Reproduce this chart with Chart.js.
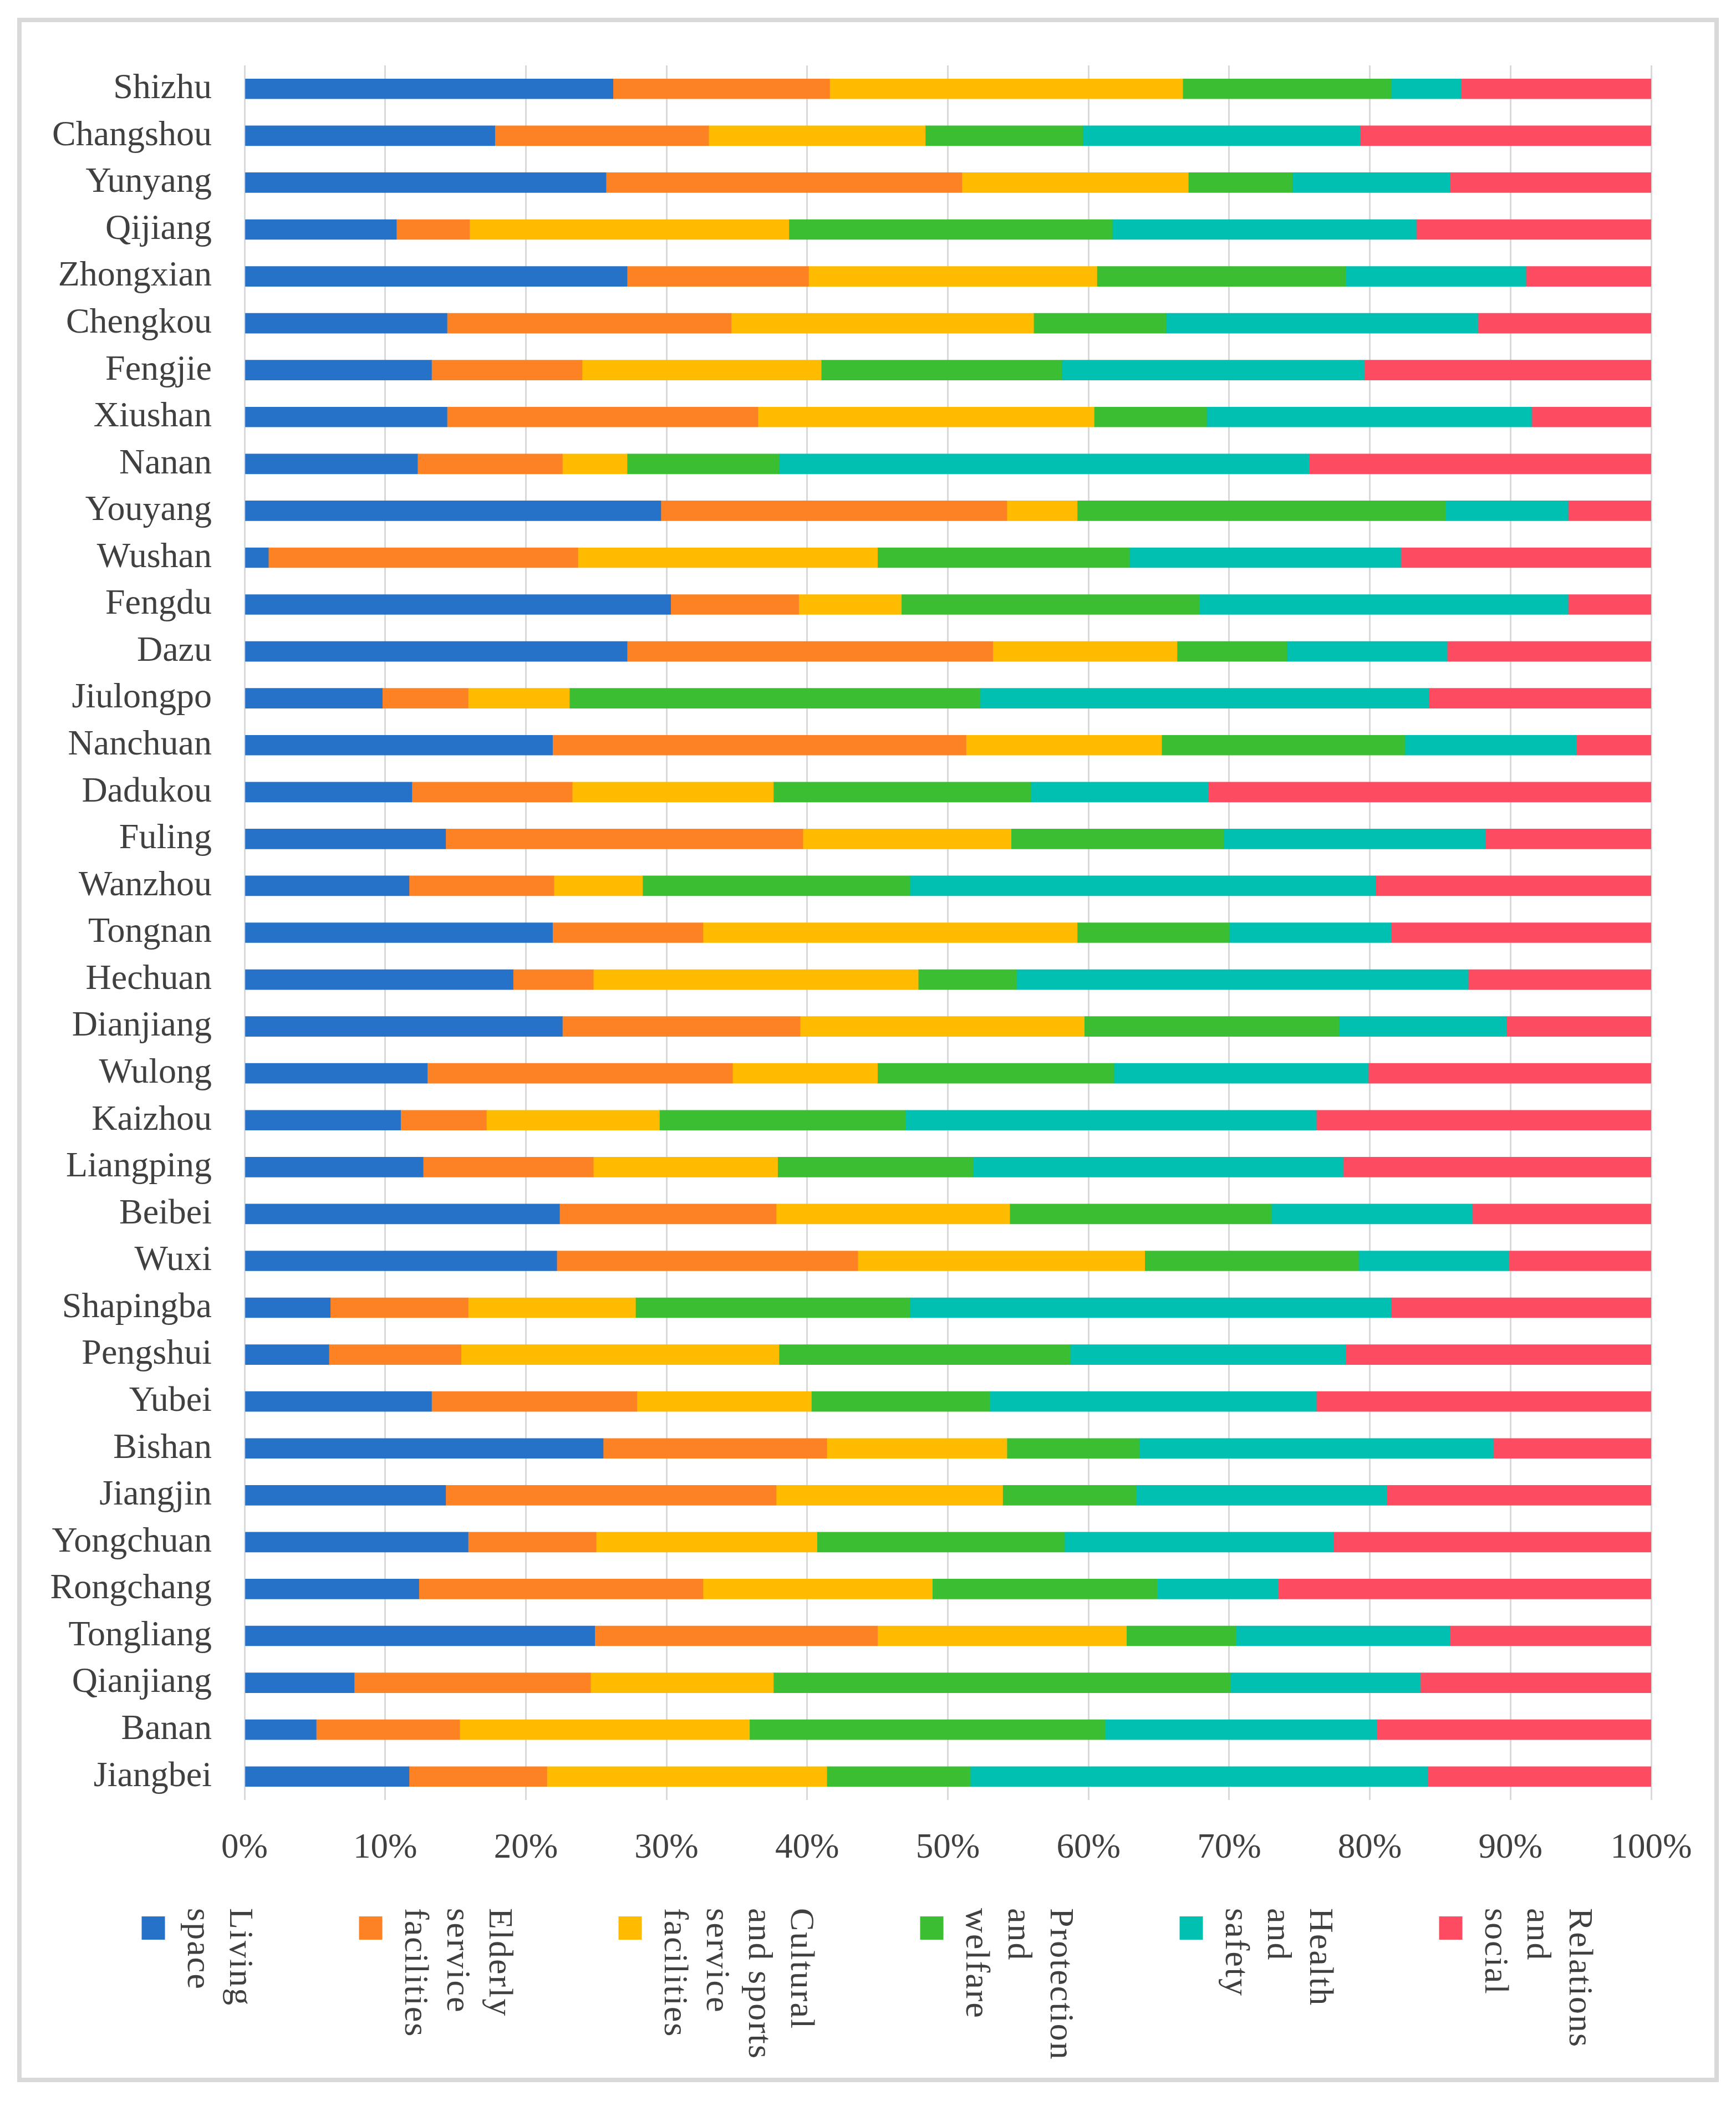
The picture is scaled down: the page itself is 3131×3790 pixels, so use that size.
<!DOCTYPE html>
<html>
<head>
<meta charset="utf-8">
<title>Stacked 100% bar chart</title>
<script src="https://cdn.jsdelivr.net/npm/chart.js@4.4.1/dist/chart.umd.min.js"></script>
<style>
  html, body { margin: 0; padding: 0; background: #ffffff; }
  #wrap { width: 3131px; height: 3790px; }
</style>
</head>
<body>
<div id="wrap"><canvas id="chart" width="3131" height="3790"></canvas></div>
<script>
// categories, top to bottom
const districts = [
  'Shizhu', 'Changshou', 'Yunyang', 'Qijiang', 'Zhongxian', 'Chengkou',
  'Fengjie', 'Xiushan', 'Nanan', 'Youyang', 'Wushan', 'Fengdu',
  'Dazu', 'Jiulongpo', 'Nanchuan', 'Dadukou', 'Fuling', 'Wanzhou',
  'Tongnan', 'Hechuan', 'Dianjiang', 'Wulong', 'Kaizhou', 'Liangping',
  'Beibei', 'Wuxi', 'Shapingba', 'Pengshui', 'Yubei', 'Bishan',
  'Jiangjin', 'Yongchuan', 'Rongchang', 'Tongliang', 'Qianjiang', 'Banan',
  'Jiangbei'
];

// shares in percent, same order as districts
const livingSpace = [
  26.2, 17.8, 25.7, 10.8, 27.2, 14.4,
  13.3, 14.4, 12.3, 29.6, 1.7, 30.3,
  27.2, 9.8, 21.9, 11.9, 14.3, 11.7,
  21.9, 19.1, 22.6, 13.0, 11.1, 12.7,
  22.4, 22.2, 6.1, 6.0, 13.3, 25.5,
  14.3, 15.9, 12.4, 24.9, 7.8, 5.1,
  11.7
];
const elderlyService = [
  15.4, 15.2, 25.3, 5.2, 12.9, 20.2,
  10.7, 22.1, 10.3, 24.6, 22.0, 9.1,
  26.0, 6.1, 29.4, 11.4, 25.4, 10.3,
  10.7, 5.7, 16.9, 21.7, 6.1, 12.1,
  15.4, 21.4, 9.8, 9.4, 14.6, 15.9,
  23.5, 9.1, 20.2, 20.1, 16.8, 10.2,
  9.8
];
const culturalSports = [
  25.1, 15.4, 16.1, 22.7, 20.5, 21.5,
  17.0, 23.9, 4.6, 5.0, 21.3, 7.3,
  13.1, 7.2, 13.9, 14.3, 14.8, 6.3,
  26.6, 23.1, 20.2, 10.3, 12.3, 13.1,
  16.6, 20.4, 11.9, 22.6, 12.4, 12.8,
  16.1, 15.7, 16.3, 17.7, 13.0, 20.6,
  19.9
];
const protectionWelfare = [
  14.8, 11.2, 7.4, 23.0, 17.7, 9.4,
  17.1, 8.0, 10.8, 26.2, 17.9, 21.2,
  7.8, 29.2, 17.3, 18.3, 15.1, 19.0,
  10.8, 7.0, 18.1, 16.8, 17.5, 13.9,
  18.6, 15.2, 19.5, 20.7, 12.7, 9.4,
  9.5, 17.6, 16.0, 7.8, 32.5, 25.3,
  10.2
];
const healthSafety = [
  5.0, 19.7, 11.2, 21.6, 12.8, 22.2,
  21.5, 23.1, 37.7, 8.7, 19.3, 26.2,
  11.4, 31.9, 12.2, 12.6, 18.6, 33.1,
  11.5, 32.1, 11.9, 18.1, 29.2, 26.3,
  14.3, 10.7, 34.2, 19.6, 23.2, 25.2,
  17.8, 19.1, 8.6, 15.2, 13.5, 19.3,
  32.5
];
const relationsSocial = [
  13.5, 20.7, 14.3, 16.7, 8.9, 12.3,
  20.4, 8.5, 24.3, 5.9, 17.8, 5.9,
  14.5, 15.8, 5.3, 31.5, 11.8, 19.6,
  18.5, 13.0, 10.3, 20.1, 23.8, 21.9,
  12.7, 10.1, 18.5, 21.7, 23.8, 11.2,
  18.8, 22.6, 26.5, 14.3, 16.4, 19.5,
  15.9
];

const seriesNames = [
  'Living space',
  'Elderly service facilities',
  'Cultural and sports service facilities',
  'Protection and welfare',
  'Health and safety',
  'Relations and social'
];
// how the legend wraps each name
const legendLines = [
  ['Living', 'space'],
  ['Elderly', 'service', 'facilities'],
  ['Cultural', 'and sports', 'service', 'facilities'],
  ['Protection', 'and', 'welfare'],
  ['Health', 'and', 'safety'],
  ['Relations', 'and', 'social']
];
const seriesColors = ['#2672c9', '#fd8224', '#febb00', '#3cbe33', '#00c0b1', '#fd4b61'];

// x axis ticks
const xTickValues = [0, 10, 20, 30, 40, 50, 60, 70, 80, 90, 100];
const xTickLabels = ['0%', '10%', '20%', '30%', '40%', '50%', '60%', '70%', '80%', '90%', '100%'];

const SERIF = '"Liberation Serif", "Times New Roman", serif';
const TEXT_COLOR = '#404040';

// light grey frame round the whole picture
const framePlugin = {
  id: 'frame',
  beforeDraw(chart) {
    const ctx = chart.ctx;
    ctx.save();
    ctx.fillStyle = '#ffffff';
    ctx.fillRect(0, 0, chart.width, chart.height);
    ctx.strokeStyle = '#d9d9d9';
    ctx.lineWidth = 8;
    ctx.strokeRect(35, 36, 3061, 3716);
    ctx.restore();
  }
};

// Excel-style legend: square swatch, name written top-to-bottom in columns
const verticalLegend = {
  id: 'verticalLegend',
  afterDraw(chart) {
    const ctx = chart.ctx;
    const box = 42, textGap = 41, lineH = 76, capH = 45, itemGap = 188;
    const boxTop = 3457, textTop = 3442;
    const widths = legendLines.map(l => box + textGap + (l.length - 1) * lineH + capH);
    const total = widths.reduce((a, b) => a + b, 0) + itemGap * (widths.length - 1);
    let x = chart.width / 2 - total / 2;

    ctx.save();
    ctx.font = '62px ' + SERIF;
    ctx.fillStyle = TEXT_COLOR;
    ctx.textAlign = 'left';
    ctx.textBaseline = 'alphabetic';
    if ('letterSpacing' in ctx) ctx.letterSpacing = '2px';

    chart.data.datasets.forEach((ds, i) => {
      ctx.fillStyle = ds.backgroundColor;
      ctx.fillRect(x, boxTop, box, box);
      ctx.fillStyle = TEXT_COLOR;
      const lines = legendLines[i];
      lines.forEach((line, j) => {
        const bx = x + box + textGap + (lines.length - 1 - j) * lineH;
        ctx.save();
        ctx.translate(bx, textTop);
        ctx.rotate(Math.PI / 2);
        ctx.fillText(line, 0, 0);
        ctx.restore();
      });
      x += widths[i] + itemGap;
    });
    ctx.restore();
  }
};

const seriesData = [livingSpace, elderlyService, culturalSports, protectionWelfare, healthSafety, relationsSocial];

const ctx = document.getElementById('chart').getContext('2d');
new Chart(ctx, {
  type: 'bar',
  data: {
    labels: districts,
    datasets: seriesData.map((values, i) => ({
      label: seriesNames[i],
      data: values,
      backgroundColor: seriesColors[i],
      borderWidth: 0,
      barThickness: 36
    }))
  },
  options: {
    indexAxis: 'y',
    responsive: false,
    devicePixelRatio: 1,
    animation: false,
    layout: { padding: { left: 0, right: 153, top: 118, bottom: 423 } },
    plugins: {
      legend: { display: false },
      tooltip: { enabled: false }
    },
    scales: {
      x: {
        stacked: true,
        min: 0,
        max: 100,
        afterBuildTicks(scale) {
          scale.ticks = xTickValues.map(v => ({ value: v }));
        },
        afterFit(scale) { scale.height = 120; },
        grid: { color: '#d9d9d9', lineWidth: 3, drawTicks: false },
        border: { display: false },
        ticks: {
          padding: 50,
          color: TEXT_COLOR,
          font: { family: SERIF, size: 63 },
          maxRotation: 0,
          autoSkip: false,
          callback: (value, index) => xTickLabels[index]
        }
      },
      y: {
        stacked: true,
        afterFit(scale) { scale.width = 441; },
        grid: { display: false },
        border: { display: false },
        ticks: {
          padding: 51,
          color: TEXT_COLOR,
          font: { family: SERIF, size: 64 },
          autoSkip: false
        }
      }
    }
  },
  plugins: [framePlugin, verticalLegend]
});
</script>
</body>
</html>
